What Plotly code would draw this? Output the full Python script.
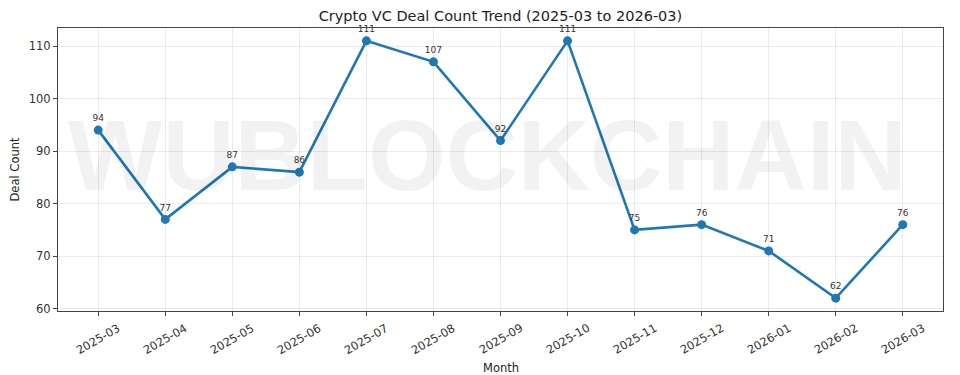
import plotly.graph_objects as go

months = ["2025-03", "2025-04", "2025-05", "2025-06", "2025-07", "2025-08", "2025-09",
          "2025-10", "2025-11", "2025-12", "2026-01", "2026-02", "2026-03"]
deal_counts = [94, 77, 87, 86, 111, 107, 92, 111, 75, 76, 71, 62, 76]
y_ticks = [60, 70, 80, 90, 100, 110]

x_idx = list(range(len(months)))
font_family = "DejaVu Sans"

fig = go.Figure()
fig.add_trace(go.Scatter(
    x=x_idx, y=deal_counts, mode="lines+markers+text",
    line=dict(color="#1f77b4", width=2.6),
    marker=dict(color="#1f77b4", size=9),
    text=[str(v) for v in deal_counts],
    textposition="top center",
    textfont=dict(family=font_family, size=9, color="#333333"),
    cliponaxis=False,
    showlegend=False,
))

# watermark
fig.add_annotation(
    text="<b>WUBLOCKCHAIN</b>", xref="paper", yref="paper", x=0.485, y=0.55,
    showarrow=False, font=dict(family="Liberation Sans", size=100, color="rgba(0,0,0,0.05)"),
    xanchor="center", yanchor="middle",
)

# rotated month labels, centred under each tick (matplotlib style)
for i, m in zip(x_idx, months):
    fig.add_annotation(
        text=m, x=i, xref="x", y=0, yref="paper", yshift=-28,
        textangle=-30, showarrow=False, xanchor="center", yanchor="middle",
        font=dict(family=font_family, size=11.5, color="#333333"),
    )

# x axis title
fig.add_annotation(
    text="Month", x=0.5, xref="paper", y=0, yref="paper", yshift=-57,
    showarrow=False, xanchor="center", yanchor="middle",
    font=dict(family=font_family, size=11.5, color="#222222"),
)

fig.update_layout(
    width=952, height=367,
    margin=dict(l=50, r=17, t=20, b=64),
    paper_bgcolor="white", plot_bgcolor="white",
    title=dict(text="Crypto VC Deal Count Trend (2025-03 to 2026-03)", x=0.5173, xanchor="center",
               xref="container", y=0.978, yanchor="middle",
               font=dict(family=font_family, size=14.5, color="#222222")),
    font=dict(family=font_family, color="#333333"),
)
fig.update_xaxes(
    range=[-0.6, 12.6], tickmode="array", tickvals=x_idx, showticklabels=False,
    automargin=False,
    showgrid=True, gridcolor="rgba(0,0,0,0.08)", gridwidth=1,
    showline=True, linecolor="#444444", linewidth=1.2, mirror=True,
    ticks="outside", ticklen=4, tickcolor="#444444", zeroline=False,
)
fig.update_yaxes(
    range=[59.55, 113.45], tickmode="array", tickvals=y_ticks,
    tickfont=dict(size=11.5, color="#333333"), automargin=False,
    showgrid=True, gridcolor="rgba(0,0,0,0.08)", gridwidth=1,
    showline=True, linecolor="#444444", linewidth=1.2, mirror=True,
    ticks="outside", ticklen=4, tickcolor="#444444", zeroline=False,
    title=dict(text="Deal Count", font=dict(size=11.5, color="#222222"), standoff=6),
)

fig.write_html("out.html")
